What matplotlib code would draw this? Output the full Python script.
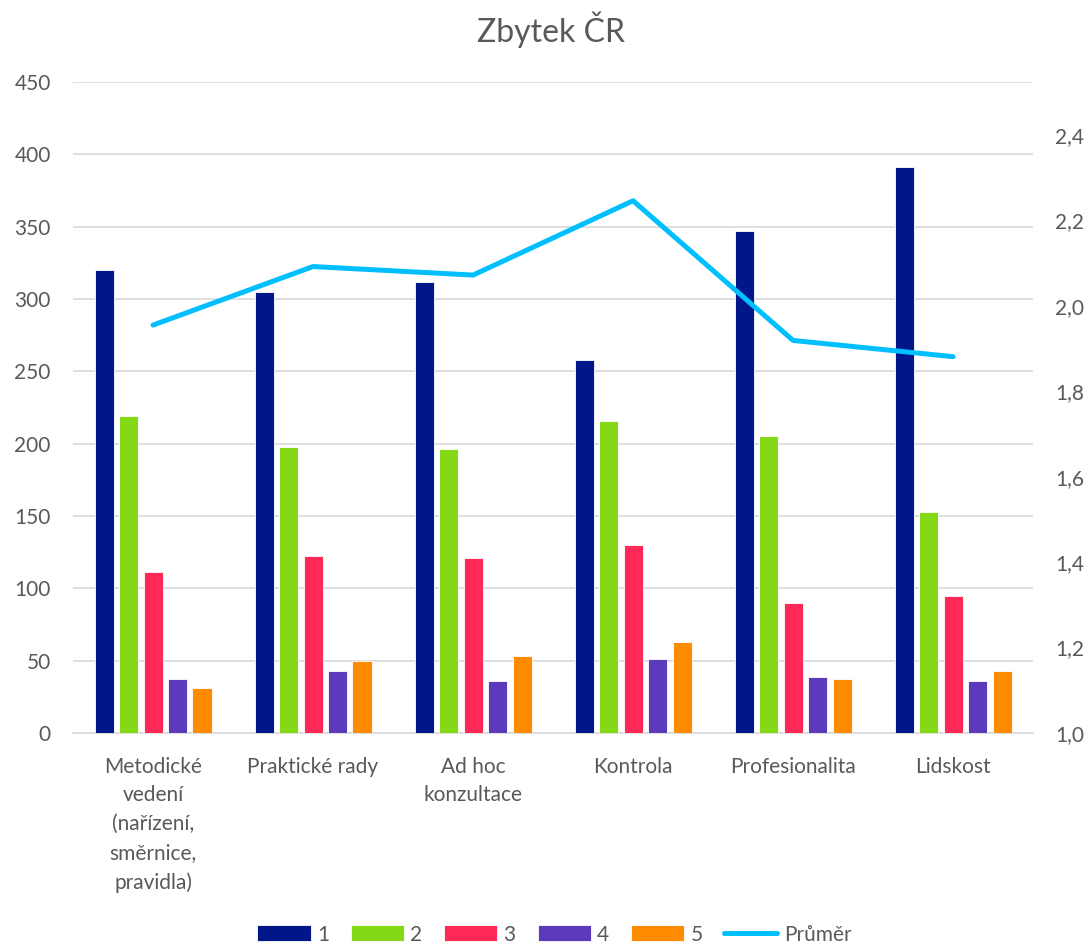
import numpy as np
import matplotlib
matplotlib.use("Agg")
import matplotlib.pyplot as plt

# data
categories = ["Metodické\nvedení\n(nařízení,\nsměrnice,\npravidla)", "Praktické rady",
              "Ad hoc\nkonzultace", "Kontrola", "Profesionalita", "Lidskost"]
s1 = [320, 305, 312, 258, 347, 391]
s2 = [219, 198, 196, 216, 205, 153]
s3 = [111, 122, 121, 130, 90, 95]
s4 = [37, 43, 36, 51, 39, 36]
s5 = [31, 50, 53, 63, 37, 43]
prumer = [1.955, 2.092, 2.072, 2.246, 1.919, 1.881]
series_names = ["1", "2", "3", "4", "5"]

colors = ["#001689", "#84D816", "#FF2957", "#5B3BBB", "#FF8C00"]
line_color = "#00BFFF"
txt = "#595959"

plt.rcParams['font.family'] = ['Lato', 'DejaVu Sans']

fig = plt.figure(figsize=(10.87, 9.47), dpi=100)
ax = fig.add_axes([0.0672, 0.226, 0.8832, 0.6874])
ax2 = ax.twinx()

x = np.arange(len(categories))
pitch = 0.153
width = 0.119
bars = []
for i, vals in enumerate([s1, s2, s3, s4, s5]):
    b = ax.bar(x + (i - 2) * pitch, vals, width, color=colors[i],
               edgecolor="white", linewidth=0.6, label=series_names[i], zorder=3)
    bars.append(b)

ln, = ax2.plot(x, prumer, color=line_color, lw=3.6, solid_capstyle="round",
               solid_joinstyle="round", label="Průměr", zorder=4)

ax.set_xlim(-0.5, len(categories) - 0.5)
ax.set_ylim(0, 450)
ax.set_yticks(np.arange(0, 451, 50))
ax2.set_ylim(1.0, 2.524)
ax2.set_yticks(np.arange(1.0, 2.41, 0.2))
ax2.set_yticklabels([f"{v:.1f}".replace(".", ",") for v in np.arange(1.0, 2.41, 0.2)])

ax.grid(axis="y", color="#D9D9D9", lw=1.2, zorder=0)
ax.set_axisbelow(True)
for a in (ax, ax2):
    for s in a.spines.values():
        s.set_visible(False)
ax.spines["bottom"].set_visible(True)
ax.spines["bottom"].set_color("#D9D9D9")
ax.spines["bottom"].set_linewidth(1.2)

ax.set_xticks(x)
ax.set_xticklabels(categories, linespacing=1.55)
ax.tick_params(axis="x", length=0, pad=17, labelsize=15, labelcolor=txt)
ax.tick_params(axis="y", length=0, pad=16, labelsize=15, labelcolor=txt)
ax2.tick_params(axis="y", length=0, pad=16, labelsize=15, labelcolor=txt)

fig.text(0.507, 1 - 30 / 947, "Zbytek ČR", ha="center", va="center",
         fontsize=23, color=txt)

handles = bars + [ln]
labels = series_names + ["Průměr"]
leg = fig.legend(handles, labels, loc="center", bbox_to_anchor=(0.51, 0.013),
                 ncol=6, frameon=False, fontsize=15, handlelength=2.55,
                 handleheight=0.8, handletextpad=0.3, columnspacing=1.05)
for t in leg.get_texts():
    t.set_color(txt)

fig.savefig("out.png", dpi=100)
